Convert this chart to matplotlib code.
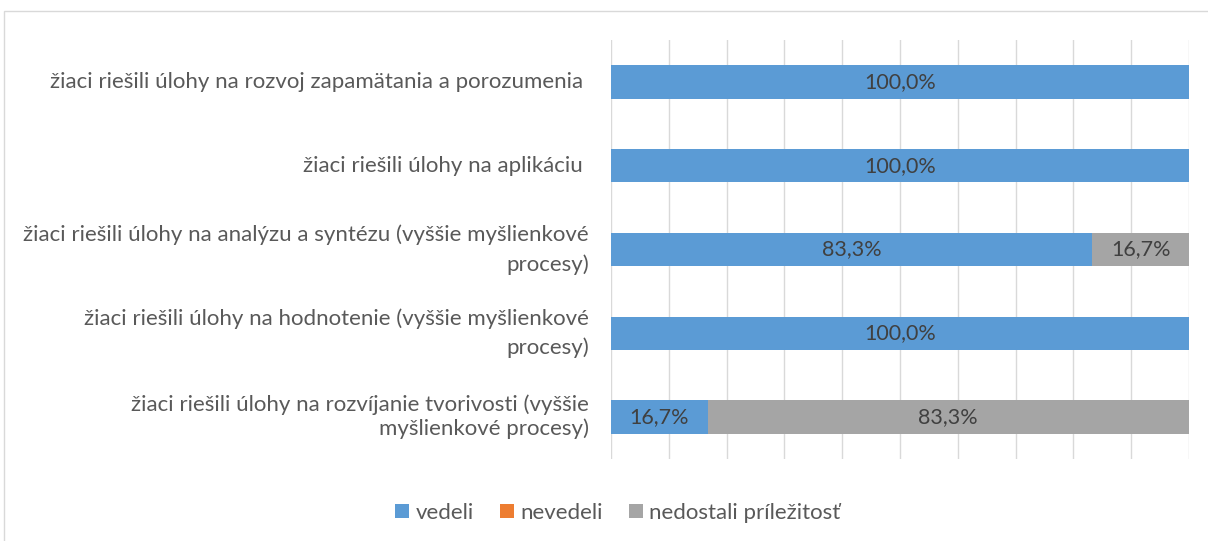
import matplotlib.pyplot as plt
from matplotlib.patches import Rectangle
import numpy as np

plt.rcParams['font.family'] = ['Lato', 'DejaVu Sans']

categories = [
    'žiaci riešili úlohy na rozvoj zapamätania a porozumenia ',
    'žiaci riešili úlohy na aplikáciu ',
    'žiaci riešili úlohy na analýzu a syntézu (vyššie myšlienkové\nprocesy)',
    'žiaci riešili úlohy na hodnotenie (vyššie myšlienkové\nprocesy)',
    'žiaci riešili úlohy na rozvíjanie tvorivosti (vyššie\nmyšlienkové procesy)',
]
vedeli = [100.0, 100.0, 83.3, 100.0, 16.7]
nevedeli = [0.0, 0.0, 0.0, 0.0, 0.0]
nedostali = [0.0, 0.0, 16.7, 0.0, 83.3]

series = [('vedeli', vedeli, '#5b9bd5'),
          ('nevedeli', nevedeli, '#ed7d31'),
          ('nedostali príležitosť', nedostali, '#a5a5a5')]

# the wrapped "procesy)" lines sit lower in labels 3 and 4
label_spacing = [1.2, 1.2, 1.55, 1.55, 1.2]


def main():
    fig = plt.figure(figsize=(12.08, 5.41), dpi=100)
    ax = fig.add_axes([611 / 1208, 1 - 459 / 541, 578 / 1208, 419 / 541])

    # chart border like excel
    fig.patches.append(Rectangle((4 / 1208, -0.1), 1.2, 1 - 11 / 541 + 0.1,
                                 transform=fig.transFigure, fill=False,
                                 edgecolor='#d9d9d9', linewidth=1.0))

    y = np.arange(len(categories))
    left = np.zeros(len(categories))
    for name, vals, color in series:
        vals = np.array(vals)
        bars = ax.barh(y, vals, left=left, height=0.4, color=color,
                       label=name, zorder=3)
        for b, v in zip(bars, vals):
            if v > 0:
                ax.text(b.get_x() + b.get_width() / 2, b.get_y() + b.get_height() / 2,
                        f'{v:.1f}%'.replace('.', ','), ha='center', va='center',
                        fontsize=15.5, color='#404040', zorder=4)
        left += vals

    ax.set_xlim(0, 100)
    ax.set_ylim(len(categories) - 0.5, -0.5)
    ax.set_xticks(np.arange(0, 101, 10))
    ax.xaxis.grid(True, color='#d9d9d9', linewidth=1.0, zorder=0)
    ax.tick_params(axis='x', length=0, labelbottom=False)
    ax.set_yticks(y)
    labels = ax.set_yticklabels(categories, fontsize=16, color='#595959')
    for lab, ls in zip(labels, label_spacing):
        lab.set_linespacing(ls)
        lab.set_verticalalignment('center')
    ax.tick_params(axis='y', length=0, pad=16)
    for s in ax.spines.values():
        s.set_visible(False)

    fig.legend(loc='center', bbox_to_anchor=(618 / 1208, 1 - 513 / 541),
               ncol=3, frameon=False, fontsize=16, labelcolor='#595959',
               handlelength=0.6, handleheight=0.6, handletextpad=0.3,
               columnspacing=1.2)

    fig.savefig('out.png', dpi=100)


if __name__ == '__main__':
    main()
